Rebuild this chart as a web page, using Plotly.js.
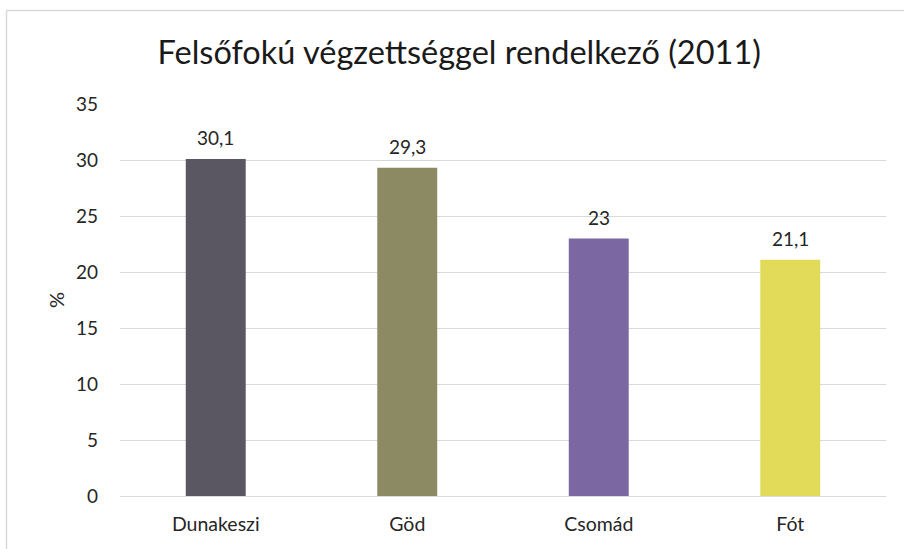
<!DOCTYPE html>
<html>
<head>
<meta charset="utf-8">
<script src="https://cdn.plot.ly/plotly-3.0.1.min.js"></script>
<style>html,body{margin:0;padding:0;background:#fff;}#chart{width:904px;height:549px;}</style>
</head>
<body>
<div id="chart"></div>
<script>
const categories = ["Dunakeszi", "Göd", "Csomád", "Fót"];
const values = [30.1, 29.3, 23, 21.1];
const valueLabels = ["30,1", "29,3", "23", "21,1"];
const barColors = ["#5a5762", "#8b8a62", "#7b68a3", "#e2db5a"];
const yTicks = [0, 5, 10, 15, 20, 25, 30, 35];

const font = "Lato, sans-serif";

const trace = {
  type: "bar",
  x: categories,
  y: values,
  marker: {color: barColors},
  hoverinfo: "none"
};

const L = 120, R = 18, T = 104, B = 53;
const W = 904 - L - R, H = 549 - T - B;
const px = p => (p - L) / W;
const py = p => (549 - B - p) / H;

const annotations = categories.map((c, i) => ({
  x: c, y: values[i], xref: "x", yref: "y",
  text: valueLabels[i], showarrow: false,
  yanchor: "middle", xanchor: "center", yshift: 21,
  font: {family: font, size: 19, color: "#262626"}
}));

const layout = {
  width: 904, height: 549,
  margin: {l: L, r: R, t: T, b: B, pad: 0},
  paper_bgcolor: "#fff", plot_bgcolor: "#fff",
  bargap: 0.687,
  showlegend: false,
  title: {
    text: "Felsőfokú végzettséggel rendelkező (2011)",
    font: {family: font, size: 32.5, color: "#1a1a1a"},
    x: 0.508, xanchor: "center", y: 0.905, yanchor: "middle"
  },
  xaxis: {
    tickfont: {family: font, size: 19.5, color: "#262626"},
    showline: false, showgrid: false, ticks: "", ticklen: 0, ticklabelstandoff: 14
  },
  yaxis: {
    range: [0, 35], tickvals: yTicks, ticktext: yTicks.map(String),
    showgrid: true, gridcolor: "#d9d9d9", gridwidth: 1,
    zeroline: true, zerolinecolor: "#d9d9d9", zerolinewidth: 1,
    showline: false, ticks: "", ticklabelstandoff: 21,
    tickfont: {family: font, size: 19, color: "#262626"},
    title: {text: "%", font: {family: font, size: 20, color: "#262626"}, standoff: 5}
  },
  annotations: annotations,
  shapes: [
    {type: "line", xref: "paper", yref: "paper", x0: px(6), x1: px(904), y0: py(10.5), y1: py(10.5), line: {color: "#d9d9d9", width: 1.5}},
    {type: "line", xref: "paper", yref: "paper", x0: px(6.5), x1: px(6.5), y0: py(10.5), y1: py(549), line: {color: "#d9d9d9", width: 1.5}}
  ]
};

Plotly.newPlot("chart", [trace], layout, {staticPlot: true, displayModeBar: false});
</script>
</body>
</html>
